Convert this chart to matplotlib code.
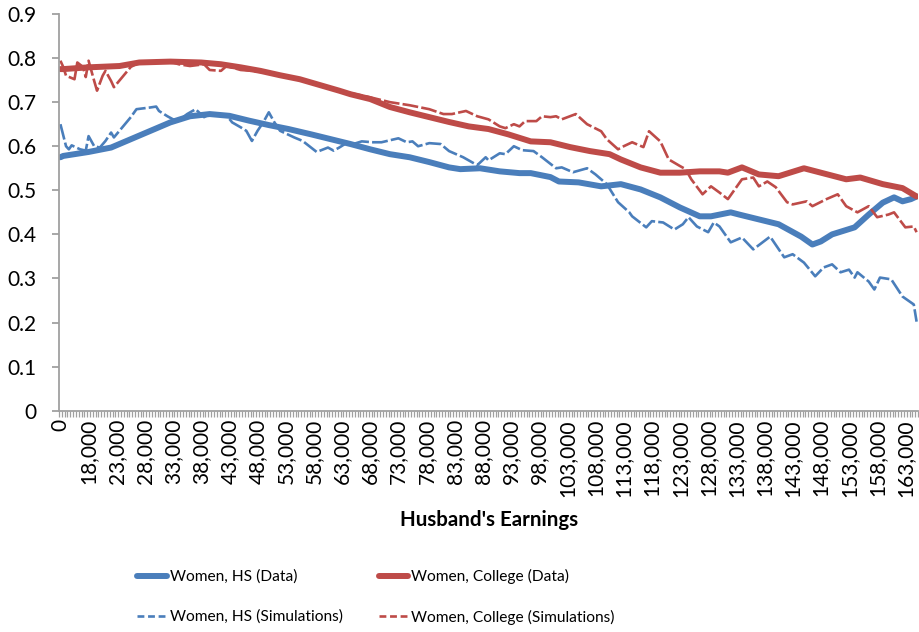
import matplotlib
matplotlib.use('Agg')
import matplotlib.pyplot as plt
from matplotlib.lines import Line2D
import numpy as np

plt.rcParams['font.family'] = ['Lato', 'DejaVu Sans']

# husband's earnings in thousands; categories are 0, then 13.5k..165k in 0.5k steps
hs_data_e = [0, 13.5, 18, 22, 25.5, 29, 32.5, 36, 39.5, 43, 46.5, 50, 53.5, 57.5, 61, 64.5, 68,
             71.5, 75, 78.5, 82, 84, 87.5, 91, 94.5, 96.5, 100, 101.5, 105, 109, 112.5, 116,
             119.5, 123, 126.5, 128.5, 132, 133.5, 137, 140.5, 144.5, 146.5, 148, 150, 154,
             156.5, 159, 161, 162.5, 164, 165]
hs_data_v = [0.575, 0.578, 0.587, 0.597, 0.616, 0.635, 0.654, 0.668, 0.673, 0.669, 0.658, 0.648,
             0.639, 0.627, 0.616, 0.605, 0.593, 0.582, 0.575, 0.564, 0.552, 0.548, 0.55, 0.543,
             0.539, 0.539, 0.53, 0.52, 0.518, 0.509, 0.514, 0.502, 0.484, 0.461, 0.441, 0.441,
             0.45, 0.445, 0.434, 0.423, 0.395, 0.377, 0.384, 0.40, 0.416, 0.445, 0.472, 0.484,
             0.475, 0.48, 0.486]

col_data_e = [0, 13.5, 18, 23.5, 27, 32.5, 38, 41.5, 45, 48.5, 52, 55.5, 59, 62.5, 64.5, 68,
              71.5, 75, 78.5, 82, 85.5, 89, 92.5, 96.5, 100, 103.5, 107, 110.5, 112.5, 116,
              119.5, 123, 126.5, 130, 131.5, 134, 137, 140.5, 145, 148, 152.5, 155, 159, 162.5,
              165]
col_data_v = [0.775, 0.775, 0.779, 0.782, 0.79, 0.792, 0.79, 0.786, 0.779, 0.771, 0.761, 0.752,
              0.739, 0.726, 0.718, 0.707, 0.689, 0.677, 0.666, 0.655, 0.645, 0.639, 0.627, 0.611,
              0.609, 0.598, 0.589, 0.582, 0.57, 0.552, 0.54, 0.54, 0.543, 0.543, 0.54, 0.552,
              0.536, 0.532, 0.55, 0.54, 0.525, 0.529, 0.514, 0.505, 0.486]

hs_sim_e = [0, 14, 14.5, 15, 16.5, 17.5, 18, 19, 20, 21, 22, 22.5, 24, 25.5, 26.5, 29, 30, 30.5,
            32, 33, 34, 35.5, 37, 38.5, 39.5, 41, 42.5, 43.5, 45, 46, 47, 48, 49, 50, 51, 52,
            54.5, 56, 58.5, 60.5, 61.5, 62.5, 64, 65, 66.5, 68.5, 70, 73, 74.5, 75.5, 76.5, 78.5,
            80.5, 82, 84.5, 87, 88.5, 89, 91, 92, 93.5, 95, 97, 98.5, 101, 102, 104, 106.5, 108,
            110, 112, 114, 114.5, 117, 118, 120, 122, 123.5, 124.5, 126, 128, 129, 130, 132, 134,
            136, 139, 141.5, 143, 145, 147, 148.5, 150, 151.5, 153, 154, 154.5, 156.5, 157.5,
            158.5, 160.5, 162.5, 164.5, 165]
hs_sim_v = [0.65, 0.60, 0.593, 0.602, 0.593, 0.59, 0.623, 0.60, 0.597, 0.612, 0.631, 0.62,
            0.643, 0.666, 0.684, 0.688, 0.69, 0.68, 0.668, 0.661, 0.658, 0.673, 0.684, 0.666,
            0.673, 0.673, 0.67, 0.654, 0.643, 0.635, 0.612, 0.635, 0.654, 0.677, 0.654, 0.635,
            0.62, 0.612, 0.587, 0.597, 0.59, 0.597, 0.609, 0.605, 0.611, 0.609, 0.609, 0.618,
            0.609, 0.611, 0.60, 0.607, 0.605, 0.589, 0.575, 0.557, 0.575, 0.568, 0.584, 0.582,
            0.60, 0.591, 0.589, 0.575, 0.55, 0.552, 0.541, 0.55, 0.536, 0.514, 0.473, 0.45,
            0.441, 0.416, 0.43, 0.427, 0.411, 0.423, 0.439, 0.418, 0.405, 0.427, 0.418, 0.382,
            0.393, 0.366, 0.395, 0.348, 0.355, 0.336, 0.305, 0.325, 0.332, 0.314, 0.32, 0.302,
            0.314, 0.293, 0.275, 0.302, 0.298, 0.259, 0.241, 0.202]

col_sim_e = [0, 13.5, 14, 15.5, 16, 17, 17.5, 18, 19, 19.5, 20.5, 21, 22, 22.5, 24, 25.5, 27, 30,
             33, 34, 36, 38.5, 39.5, 41.5, 42.5, 45, 47, 50, 53.5, 57.5, 61, 68, 71.5, 75, 78.5,
             81, 82.5, 85, 87, 89, 91, 92, 93.5, 94.5, 95.5, 97.5, 98.5, 100, 101, 102, 104.5,
             106.5, 109, 110, 112, 113, 114.5, 116.5, 117.5, 119.5, 121, 123, 124, 125, 127,
             128.5, 130, 131.5, 132.5, 134, 136, 137, 138.5, 140, 142, 143, 145.5, 146.5, 149,
             151, 152.5, 154.5, 156.5, 158, 160, 161, 163, 164.5, 165]
col_sim_v = [0.794, 0.78, 0.76, 0.752, 0.79, 0.78, 0.757, 0.794, 0.748, 0.726, 0.76, 0.771,
             0.748, 0.734, 0.757, 0.78, 0.79, 0.792, 0.79, 0.786, 0.782, 0.786, 0.773, 0.771,
             0.782, 0.773, 0.771, 0.766, 0.757, 0.745, 0.73, 0.711, 0.70, 0.693, 0.684, 0.673,
             0.673, 0.68, 0.668, 0.661, 0.645, 0.641, 0.65, 0.645, 0.657, 0.657, 0.668, 0.666,
             0.668, 0.661, 0.673, 0.65, 0.634, 0.616, 0.593, 0.60, 0.609, 0.598, 0.634, 0.611,
             0.57, 0.555, 0.548, 0.525, 0.491, 0.509, 0.495, 0.48, 0.498, 0.525, 0.529, 0.509,
             0.52, 0.507, 0.473, 0.468, 0.475, 0.464, 0.48, 0.491, 0.464, 0.45, 0.464, 0.439,
             0.445, 0.45, 0.416, 0.418, 0.405]

tick_earn = [0] + list(range(18, 164, 5))
tick_labels = ['0'] + ['{:,}'.format(k * 1000) for k in tick_earn[1:]]
names = ['Women, HS (Data)', 'Women, College (Data)',
         'Women, HS (Simulations)', 'Women, College (Simulations)']

blue = '#4a7ebb'
red = '#be4b48'


def cat_pos(e):
    # category index: 0 is the "0" bucket, then one slot per 500
    e = np.asarray(e, dtype=float)
    return np.where(e == 0, 0, (e - 13) * 2)


fig = plt.figure(figsize=(9.19, 6.32), dpi=100)
ax = fig.add_axes([59 / 919, 1 - 410.7 / 632, 859 / 919, 396.7 / 632])

ax.plot(cat_pos(hs_data_e), hs_data_v, color=blue, lw=4.3, solid_capstyle='round')
ax.plot(cat_pos(col_data_e), col_data_v, color=red, lw=4.3, solid_capstyle='round')
ax.plot(cat_pos(hs_sim_e), hs_sim_v, color=blue, lw=1.9, dashes=(6, 1.2))
ax.plot(cat_pos(col_sim_e), col_sim_v, color=red, lw=1.9, dashes=(6, 1.2))

ax.set_xlim(-0.5, 304.5)
ax.set_ylim(0, 0.9)
ax.set_yticks(np.arange(0, 0.91, 0.1))
ax.set_yticklabels(['0'] + ['%.1f' % v for v in np.arange(0.1, 0.91, 0.1)])
ax.set_xticks(cat_pos(tick_earn))
ax.set_xticklabels(tick_labels, rotation=90)
ax.set_xticks(np.arange(-0.5, 305, 1), minor=True)

for s in ['top', 'right']:
    ax.spines[s].set_visible(False)
for s in ['left', 'bottom']:
    ax.spines[s].set_color('#a0a0a0')
    ax.spines[s].set_linewidth(1.3)

ax.tick_params(axis='y', length=5, width=1.3, color='#a0a0a0', pad=11, labelsize=15)
ax.tick_params(axis='x', which='major', length=0, pad=6, labelsize=15)
ax.tick_params(axis='x', which='minor', length=4, width=0.9, color='#a0a0a0')

fig.text(489 / 919, 1 - 520 / 632, "Husband's Earnings", ha='center', va='center',
         fontsize=14.8, fontweight='bold')

# legend samples: short dashes like the original's legend keys
handles = [Line2D([], [], color=blue, lw=4.3, solid_capstyle='round'),
           Line2D([], [], color=blue, lw=1.9, dashes=(2.6, 1.4)),
           Line2D([], [], color=red, lw=4.3, solid_capstyle='round'),
           Line2D([], [], color=red, lw=1.9, dashes=(2.6, 1.4))]
labels = [names[0], names[2], names[1], names[3]]
fig.legend(handles, labels, ncol=2, frameon=False,
           loc='center', bbox_to_anchor=(376 / 919, 1 - 597 / 632), fontsize=11.2,
           handlelength=1.9, handletextpad=0.2, columnspacing=2.3, labelspacing=1.65)

fig.savefig('out.png', dpi=100)
